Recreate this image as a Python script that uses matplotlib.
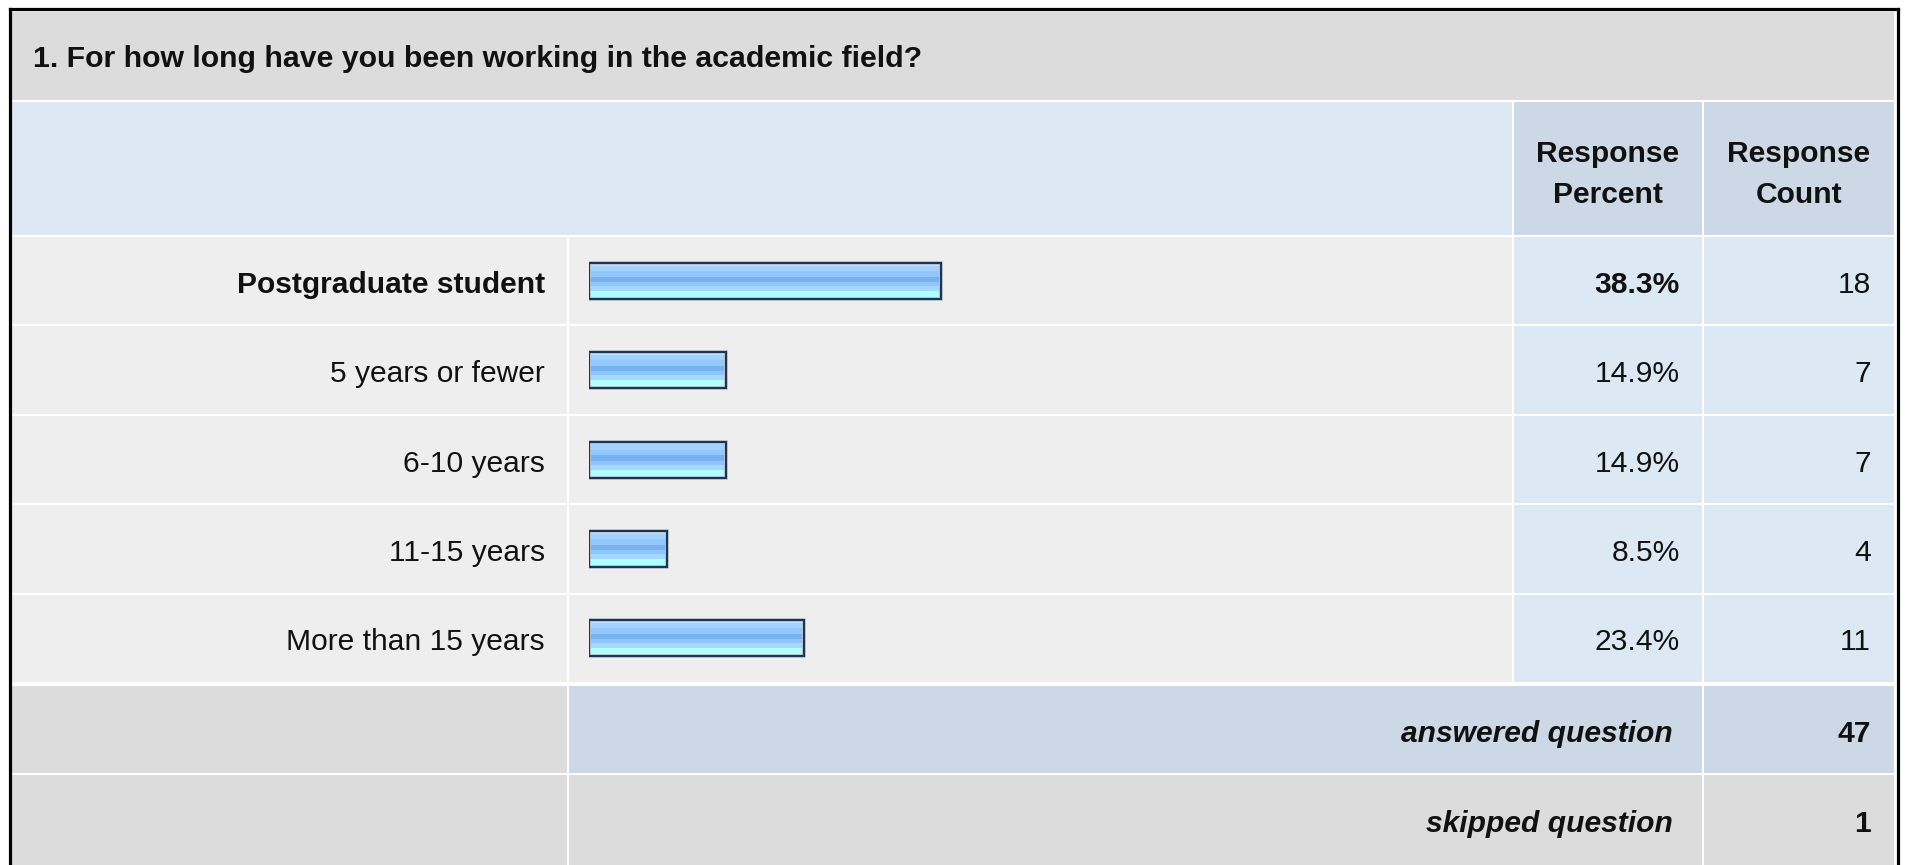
import matplotlib
matplotlib.use("Agg")
import matplotlib.pyplot as plt
from matplotlib.patches import Rectangle
import numpy as np

# ---------------- data ----------------
title = "1. For how long have you been working in the academic field?"
categories = ["Postgraduate student", "5 years or fewer", "6-10 years",
              "11-15 years", "More than 15 years"]
percents = [38.3, 14.9, 14.9, 8.5, 23.4]
counts = [18, 7, 7, 4, 11]
header_percent = "Response\nPercent"
header_count = "Response\nCount"
answered_label = "answered question"
skipped_label = "skipped question"
answered = 47
skipped = 1

# ---------------- style ----------------
W, H = 1909, 865
DPI = 100
FONT = ["Liberation Sans", "Arial", "DejaVu Sans"]
FS = 21.6  # ~30 px

C_TITLE = "#dcdcdc"
C_ROW = "#eeeeee"
C_LBLUE = "#dde8f5"
C_HBLUE = "#ccd8e6"
C_GRAY = "#dcdcdc"
C_TEXT = "#111111"

band_colors = ["#c0e0ff", "#a2d2ff", "#94c8fd", "#78b1ef", "#8ec5fa",
               "#a3d8ff", "#b0ffff"]
band_fracs = [0.09, 0.15, 0.15, 0.15, 0.12, 0.13, 0.21]

fig = plt.figure(figsize=(W / DPI, H / DPI), dpi=DPI)
fig.patch.set_facecolor("white")
ax = fig.add_axes([0, 0, 1, 1])
ax.set_xlim(0, W)
ax.set_ylim(H, 0)
ax.axis("off")

# column / row geometry (pixels)
X0, X1 = 12, 1894
cols = [(12, 567), (569, 1512), (1514, 1702), (1704, 1894)]
title_y = (12, 100)
head_y = (102, 235)
data_top, pitch, gap = 237, 89.4, 2
n = len(categories)
rows_y = [(data_top + i * pitch, data_top + (i + 1) * pitch - gap) for i in range(n)]
ans_y = (686, 773)
skip_y = (775, 866)


def cell(x, y, c):
    ax.add_patch(Rectangle((x[0], y[0]), x[1] - x[0], y[1] - y[0],
                           facecolor=c, edgecolor="none", zorder=1))


# title row
cell((X0, X1), title_y, C_TITLE)
ax.text(33, (title_y[0] + title_y[1]) / 2 + 3, title, fontsize=FS * 1.01,
        fontweight="bold", family=FONT, color=C_TEXT, va="center", ha="left",
        zorder=3)

# header row
cell((X0, cols[1][1]), head_y, C_LBLUE)
cell(cols[2], head_y, C_HBLUE)
cell(cols[3], head_y, C_HBLUE)
hy = (head_y[0] + head_y[1]) / 2 + 6
ax.text((cols[2][0] + cols[2][1]) / 2, hy, header_percent, fontsize=FS,
        fontweight="bold", family=FONT, color=C_TEXT, ha="center",
        va="center", linespacing=1.62, zorder=3)
ax.text((cols[3][0] + cols[3][1]) / 2, hy, header_count, fontsize=FS,
        fontweight="bold", family=FONT, color=C_TEXT, ha="center",
        va="center", linespacing=1.62, zorder=3)

# data rows
imax = int(np.argmax(percents))
for i, (cat, p, c) in enumerate(zip(categories, percents, counts)):
    y = rows_y[i]
    cy = (y[0] + y[1]) / 2 + 4
    cell(cols[0], y, C_ROW)
    cell(cols[1], y, C_ROW)
    cell(cols[2], y, C_LBLUE)
    cell(cols[3], y, C_LBLUE)
    bold = "bold" if i == imax else "normal"
    ax.text(545, cy, cat, fontsize=FS, fontweight=bold, family=FONT,
            color=C_TEXT, ha="right", va="center", zorder=3)
    ax.text(1680, cy, f"{p:.1f}%", fontsize=FS, fontweight=bold,
            family=FONT, color=C_TEXT, ha="right", va="center", zorder=3)
    ax.text(1871, cy, f"{c}", fontsize=FS, family=FONT, color=C_TEXT,
            ha="right", va="center", zorder=3)

# footer rows
cell(cols[0], ans_y, C_GRAY)
cell((cols[1][0], cols[2][1]), ans_y, C_HBLUE)
cell(cols[3], ans_y, C_HBLUE)
cell(cols[0], skip_y, C_GRAY)
cell((cols[1][0], cols[2][1]), skip_y, C_GRAY)
cell(cols[3], skip_y, C_GRAY)
for yy, lab, val in [(ans_y, answered_label, answered),
                     (skip_y, skipped_label, skipped)]:
    cy = (yy[0] + min(yy[1], 864)) / 2 + 4
    ax.text(1673, cy, lab, fontsize=FS, fontweight="bold", style="italic",
            family=FONT, color=C_TEXT, ha="right", va="center", zorder=3)
    ax.text(1871, cy, f"{val}", fontsize=FS, fontweight="bold",
            family=FONT, color=C_TEXT, ha="right", va="center", zorder=3)

# outer border (black)
bw = 2.3
ax.plot([9.5, 9.5], [H + 5, 8.5], color="black", lw=bw, solid_capstyle="projecting", zorder=4)
ax.plot([9.5, 1897.5], [8.5, 8.5], color="black", lw=bw, solid_capstyle="projecting", zorder=4)
ax.plot([1897.5, 1897.5], [8.5, H + 5], color="black", lw=bw, solid_capstyle="projecting", zorder=4)

# ---------------- bars in their own axes ----------------
bar_left, bar_full = 589, 919  # pixel position of 0 % and length of 100 %
bax = fig.add_axes([bar_left / W, 1 - (data_top + n * pitch) / H,
                    bar_full / W, n * pitch / H])
bax.set_xlim(0, 100)
bax.set_ylim(n - 0.5, -0.5)
bax.axis("off")
bax.patch.set_alpha(0)

bh = 36 / pitch
grad = []
total = 60
for col, fr in zip(band_colors, band_fracs):
    k = max(1, int(round(fr * total)))
    grad += [matplotlib.colors.to_rgb(col)] * k
grad = np.array(grad)[:, None, :]

for i, p in enumerate(percents):
    yc = i - 0.01
    bax.imshow(grad, extent=(0, p, yc + bh / 2, yc - bh / 2), aspect="auto",
               interpolation="nearest", origin="upper", zorder=2)
    bax.barh(yc, p, height=bh, left=0, fill=False, edgecolor="#c9d1dc",
             linewidth=2.8, zorder=2.5)
    bax.barh(yc, p, height=bh, left=0, fill=False, edgecolor="#1c3557",
             linewidth=1.6, zorder=3)
bax.set_xlim(0, 100)
bax.set_ylim(n - 0.5, -0.5)

fig.savefig("out.png", dpi=DPI, facecolor="white")
